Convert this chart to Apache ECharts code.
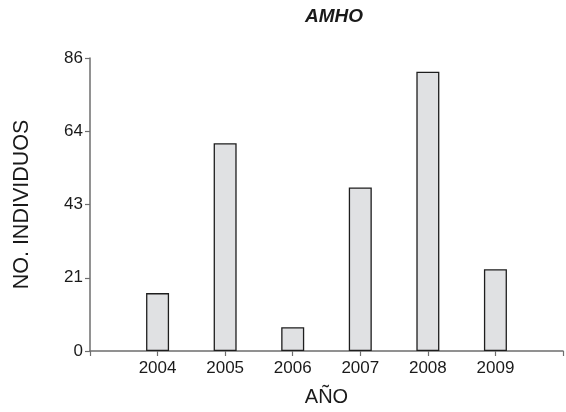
<!DOCTYPE html>
<html>
<head>
<meta charset="utf-8">
<script src="https://cdn.jsdelivr.net/npm/echarts@6/dist/echarts.min.js"></script>
<style>
  html, body { margin: 0; padding: 0; background: #fff; }
  #chart { width: 566px; height: 412px; }
</style>
</head>
<body>
<div id="chart"></div>
<script>
// Annual counts of individuals
const years = [2004, 2005, 2006, 2007, 2008, 2009];
const individuals = [17, 61, 7, 48, 82, 24];
const yTicks = [0, 21, 43, 64, 86];

const FONT = '"Liberation Sans", Arial, sans-serif';
const chart = echarts.init(document.getElementById('chart'), null, { renderer: 'canvas' });

chart.setOption({
  animation: false,
  backgroundColor: '#ffffff',
  title: {
    text: 'AMHO',
    left: 329,
    textAlign: 'center',
    top: 2,
    textStyle: { fontFamily: FONT, fontSize: 19, fontWeight: 'bold', fontStyle: 'italic', color: '#1a1a1a' }
  },
  grid: { left: 90, right: 2, top: 58, bottom: 59.5, containLabel: false },
  xAxis: {
    type: 'value',
    min: years[0] - 1,
    max: years[years.length - 1] + 1,
    interval: 1,
    name: 'AÑO',
    nameLocation: 'middle',
    nameGap: 36,
    nameTextStyle: { fontFamily: FONT, fontSize: 20, color: '#1a1a1a' },
    axisLine: { show: true, lineStyle: { color: '#6e6e6e', width: 1.5 } },
    axisTick: { show: true, length: 5, lineStyle: { color: '#6e6e6e', width: 1.2 } },
    axisLabel: {
      fontFamily: FONT, fontSize: 17, color: '#1a1a1a', margin: 9,
      formatter: v => (years.indexOf(v) >= 0 ? String(v) : '')
    },
    splitLine: { show: false }
  },
  yAxis: {
    type: 'value',
    min: yTicks[0],
    max: yTicks[yTicks.length - 1],
    interval: (yTicks[yTicks.length - 1] - yTicks[0]) / (yTicks.length - 1),
    name: 'NO. INDIVIDUOS',
    nameLocation: 'middle',
    nameGap: 57,
    nameTextStyle: { fontFamily: FONT, fontSize: 21.5, color: '#1a1a1a' },
    axisLine: { show: true, lineStyle: { color: '#6e6e6e', width: 1.5 } },
    axisTick: { show: true, length: 5, lineStyle: { color: '#6e6e6e', width: 1.2 } },
    axisLabel: {
      fontFamily: FONT, fontSize: 17, color: '#1a1a1a', margin: 7,
      formatter: v => String(Math.floor(v))
    },
    splitLine: { show: false }
  },
  series: [{
    type: 'bar',
    data: years.map((y, i) => [y, individuals[i]]),
    barWidth: 23,
    itemStyle: { color: '#e0e1e3', borderColor: '#1e1e1e', borderWidth: 1.3 }
  }]
});
</script>
</body>
</html>
